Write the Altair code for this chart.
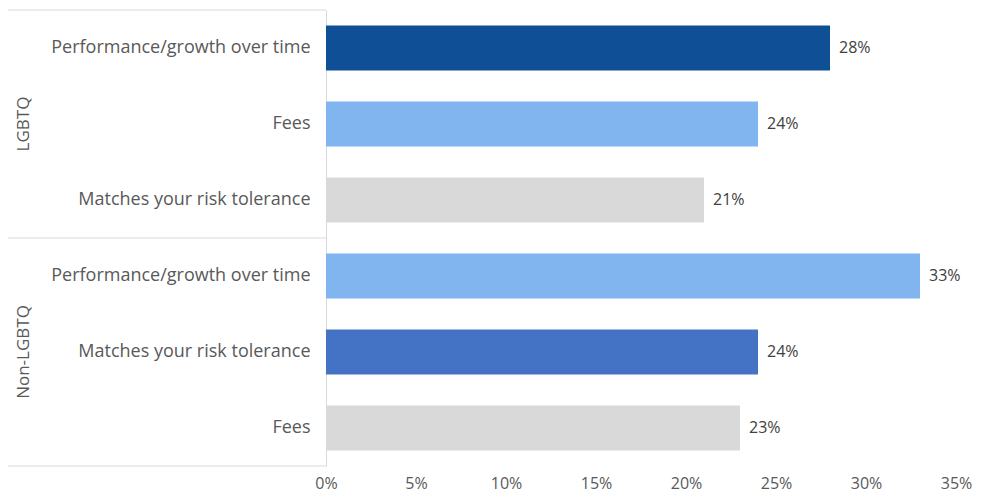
import altair as alt
import pandas as pd

groups = ["LGBTQ", "LGBTQ", "LGBTQ", "Non-LGBTQ", "Non-LGBTQ", "Non-LGBTQ"]
items = ["Performance/growth over time", "Fees", "Matches your risk tolerance",
         "Performance/growth over time", "Matches your risk tolerance", "Fees"]
values = [0.28, 0.24, 0.21, 0.33, 0.24, 0.23]
shades = ["dark", "light", "gray", "light", "medium", "gray"]
shade_names = ["dark", "light", "medium", "gray"]
shade_colors = ["#0F4F95", "#80B5EF", "#4472C4", "#D9D9D9"]
x_ticks = [0, 0.05, 0.10, 0.15, 0.20, 0.25, 0.30, 0.35]

keys = [f"{g}|{i}" for g, i in zip(groups, items)]
df = pd.DataFrame({"key": keys, "group": groups, "item": items,
                   "value": values, "shade": shades})

FONT = "Open Sans"
GRAY_LINE = "#D9D9D9"
TEXT = "#595959"

y_enc = alt.Y("key:N", sort=keys, title=None,
              scale=alt.Scale(paddingInner=0, paddingOuter=0),
              axis=alt.Axis(labelExpr="split(datum.label, '|')[1]",
                            labelFont=FONT, labelFontSize=18, labelColor=TEXT,
                            labelPadding=16, ticks=False, domain=True,
                            domainColor=GRAY_LINE, labelLimit=400))

x_enc = alt.X("value:Q", title=None,
              scale=alt.Scale(domain=[0, 0.35], nice=False),
              axis=alt.Axis(values=x_ticks, format=".0%", grid=False,
                            domain=False, ticks=False, labelFont=FONT,
                            labelFlush=False,
                            labelFontSize=16, labelColor=TEXT, labelPadding=9))

base = alt.Chart(df)

bars = base.mark_bar(height=alt.RelativeBandSize(0.59)).encode(
    x=x_enc, y=y_enc,
    color=alt.Color("shade:N", scale=alt.Scale(domain=shade_names, range=shade_colors),
                    legend=None),
)

labels = base.mark_text(align="left", baseline="middle", dx=9,
                        font=FONT, fontSize=16, color="#404040").encode(
    x="value:Q", y=alt.Y("key:N", sort=keys),
    text=alt.Text("value:Q", format=".0%"),
)

group_df = pd.DataFrame({"group": ["LGBTQ", "Non-LGBTQ"],
                         "key": [keys[1], keys[4]]})
group_labels = alt.Chart(group_df).mark_text(
    angle=270, align="center", baseline="middle", font=FONT, fontSize=17,
    color=TEXT).encode(
    x=alt.value(-302), y=alt.Y("key:N", sort=keys), text="group:N")

sep_top = pd.DataFrame({"key": [keys[0], keys[3]]})
sep_bottom = pd.DataFrame({"key": [keys[5]]})
rule_top = alt.Chart(sep_top).mark_rule(color=GRAY_LINE, strokeWidth=1).encode(
    x=alt.value(-318), x2=alt.value(0), y=alt.Y("key:N", sort=keys, bandPosition=0))
rule_bottom = alt.Chart(sep_bottom).mark_rule(color=GRAY_LINE, strokeWidth=1).encode(
    x=alt.value(-318), x2=alt.value(0), y=alt.Y("key:N", sort=keys, bandPosition=1))

chart = alt.layer(bars, labels, group_labels, rule_top, rule_bottom).properties(
    width=630, height=456,
    autosize=alt.AutoSizeParams(type="none"),
    padding={"left": 318, "top": 2, "right": 20, "bottom": 26},
).configure_view(stroke=None)

chart.save("out.html", embed_options={"renderer": "svg", "actions": False})
